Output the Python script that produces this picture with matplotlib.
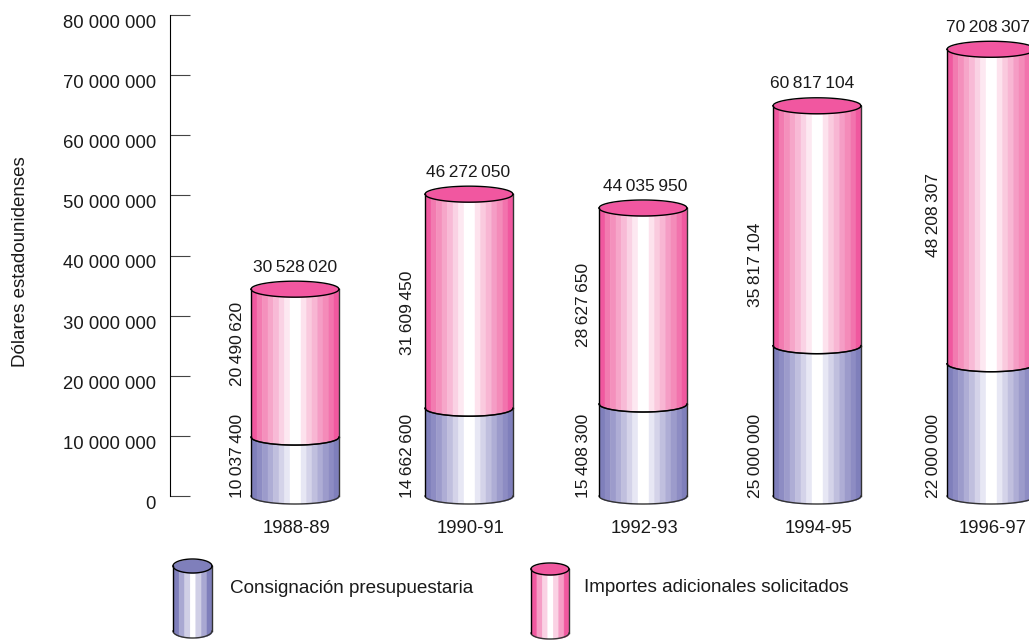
import matplotlib
matplotlib.use("Agg")
import matplotlib.pyplot as plt
from matplotlib.transforms import ScaledTranslation
import numpy as np

plt.rcParams["font.family"] = ["Liberation Sans", "DejaVu Sans"]
plt.rcParams["text.color"] = "#1a1a1a"
plt.rcParams["xtick.labelcolor"] = "#1a1a1a"
plt.rcParams["ytick.labelcolor"] = "#1a1a1a"

periods = ["1988-89", "1990-91", "1992-93", "1994-95", "1996-97"]
regular = [10037400, 14662600, 15408300, 25000000, 22000000]
additional = [20490620, 31609450, 28627650, 35817104, 48208307]
totals = [30528020, 46272050, 44035950, 60817104, 70208307]
# the cylinders are drawn taller than the totals say, these are the drawn tops
drawn_tops = [34400000, 50200000, 47900000, 64900000, 74300000]
drawn_splits = [9800000, 14600000, 15300000, 25000000, 22000000]
# where the rotated upper labels end (bottom of the text)
upper_label_y = [18300000, 23500000, 24800000, 31500000, 39800000]
total_label_dx = [0, -1, 2, -5, -3]
side_label_dx = [-57, -61, -60, -61, -58]

pink = ["#F0589F", "#F27BB0", "#F490BC", "#F6A6C9", "#F8BAD6", "#FAD2E4", "#FDE8F1",
        "#FFFFFF", "#FFFFFF",
        "#FDE2ED", "#FACADE", "#F8B6D3", "#F59DC5", "#F48BB9", "#F273AD", "#F0589F"]
blue = ["#7F7FBB", "#8D8CC3", "#9C9BCB", "#AEADD5", "#C0BFDE", "#D4D3E9", "#E7E7F4",
        "#FFFFFF", "#FFFFFF",
        "#E7E7F4", "#D4D3E9", "#C0BFDE", "#AEADD5", "#9C9BCB", "#8D8CC3", "#7F7FBB"]
pink_small = ["#F0589F", "#F59DC5", "#FAD2E4", "#FFFFFF", "#FAD2E4", "#F59DC5", "#F0589F"]
blue_small = ["#7F7FBB", "#A9A8D2", "#D0CFE6", "#FFFFFF", "#D0CFE6", "#A9A8D2", "#7F7FBB"]

PX = 481 / 80e6  # pixels per dollar
W, H = 1029, 640
BIG = 13.3
LEGEND = 13.55
SMALL = 12.5


def cylinder(ax, cx, hw, y0, y1, ry, colors, cap=None, bottom_lw=1.0):
    # y0 and y1 are the centres of the lower and upper ellipse
    edges = np.linspace(cx - hw, cx + hw, len(colors) + 1)
    for c, a, b in zip(colors, edges[:-1], edges[1:]):
        xs = np.linspace(a, b, 12)
        front = ry * np.sqrt(np.clip(1 - ((xs - cx) / hw) ** 2, 0, 1))
        ax.fill_between(xs, y0 - front, y1 - front, color=c, lw=0.3, clip_on=False)
    t = np.linspace(-1, 1, 120)
    xs = cx + hw * t
    front = ry * np.sqrt(1 - t ** 2)
    ax.plot(xs, y0 - front, color="#333333", lw=bottom_lw, clip_on=False)
    ax.plot([cx - hw, cx - hw], [y0, y1], color="black", lw=1, clip_on=False)
    ax.plot([cx + hw, cx + hw], [y0, y1], color="#333333", lw=1, clip_on=False)
    if cap is not None:
        ax.fill_between(xs, y1 - front, y1 + front, color=cap, lw=0, clip_on=False)
        ax.plot(xs, y1 - front, color="black", lw=1, clip_on=False)
        ax.plot(xs, y1 + front, color="black", lw=1, clip_on=False)


def thin(v):
    return f"{v:,}".replace(",", "\u2009")


fig = plt.figure(figsize=(W / 100, H / 100), dpi=100)
ax = fig.add_axes([170 / W, (H - 496) / H, (W - 170) / W, 481 / H])
ax.set_xlim((170 - 295) / 174, (W - 295) / 174)
ax.set_ylim(0, 80e6)

hw = 44 / 174
ry = 8 / PX
for i in range(len(periods)):
    cylinder(ax, i, hw, drawn_splits[i], drawn_tops[i], ry, pink, cap="#F157A0")
    cylinder(ax, i, hw, 0, drawn_splits[i], ry, blue)
    # the split line over both colours
    t = np.linspace(-1, 1, 120)
    ax.plot(i + hw * t, drawn_splits[i] - ry * np.sqrt(1 - t ** 2), color="black", lw=1, clip_on=False)

    ax.text(i + total_label_dx[i] / 174, drawn_tops[i] + 22 / PX, thin(totals[i]),
            ha="center", va="center", fontsize=SMALL, clip_on=False)
    ax.text(i + side_label_dx[i] / 174, -2 / PX, thin(regular[i]), rotation=90,
            ha="center", va="bottom", fontsize=SMALL)
    ax.text(i + side_label_dx[i] / 174, upper_label_y[i], thin(additional[i]), rotation=90,
            ha="center", va="bottom", fontsize=SMALL)

ax.set_xticks(range(len(periods)), periods)
ax.set_yticks(np.arange(0, 80e6 + 1, 10e6))
ax.yaxis.set_major_formatter(lambda v, pos: f"{int(v):,}".replace(",", " "))
ax.tick_params(axis="x", length=0, pad=17, labelsize=BIG)
ax.tick_params(axis="y", direction="in", length=14.4, width=0.8, color="#444444", pad=10, labelsize=BIG)
for label in ax.get_yticklabels():
    label.set_va("top")
for label in ax.get_xticklabels():
    label.set_transform(label.get_transform() + ScaledTranslation(1.5 / 100, 0, fig.dpi_scale_trans))
ax.spines[["top", "right", "bottom"]].set_visible(False)
ax.patch.set_alpha(0)

# y label and legend live in plain pixel coordinates
over = fig.add_axes([0, 0, 1, 1], zorder=-1)
over.set_xlim(0, W)
over.set_ylim(H, 0)
over.axis("off")
over.text(21, 262, "Dólares estadounidenses", rotation=90, ha="center", va="center", fontsize=13.5)
cylinder(over, 192.5, 19.5, 631, 566, -7, blue_small, cap="#7F7FBB")
cylinder(over, 550, 19, 633, 569, -6, pink_small, cap="#F0589F")
over.text(230, 593, "Consignación presupuestaria", ha="left", va="baseline", fontsize=LEGEND)
over.text(584, 592, "Importes adicionales solicitados", ha="left", va="baseline", fontsize=LEGEND)

fig.savefig("out.png", dpi=100)
